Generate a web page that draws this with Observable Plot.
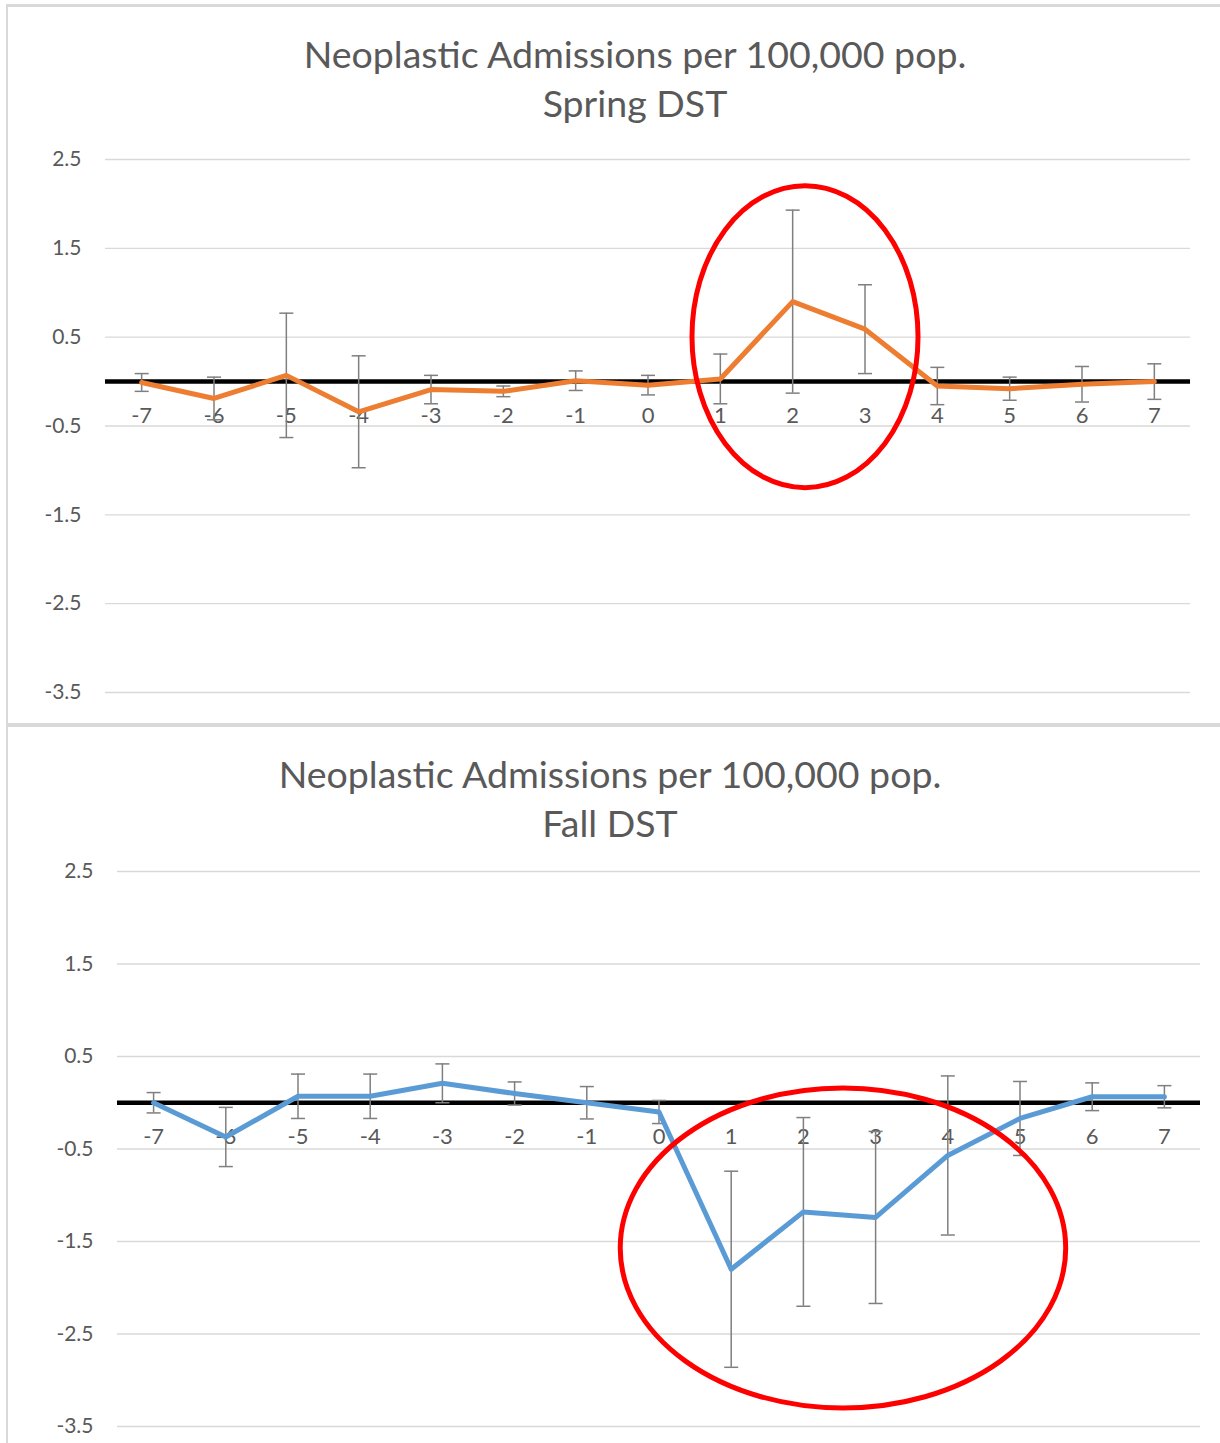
<!DOCTYPE html>
<html>
<head>
<meta charset="utf-8">
<script src="https://cdn.jsdelivr.net/npm/d3@7"></script>
<script src="https://cdn.jsdelivr.net/npm/@observablehq/plot@0.6"></script>
<style>
  body { margin: 0; width: 1220px; height: 1443px; position: relative; overflow: hidden; background: #fff; font-family: Lato, sans-serif; }
  .frame { position: absolute; box-sizing: border-box; border: 0 solid #d9d9d9; }
  .title { position: absolute; text-align: center; color: #595959; font-size: 37.5px; line-height: 49px; }
  .chart { position: absolute; left: 0; }
</style>
</head>
<body>
<div class="frame" style="left:6px;top:4px;right:0;height:723px;border-top-width:3px;border-left-width:2px;border-bottom-width:4px"></div>
<div class="frame" style="left:6px;top:727px;right:0;bottom:0;border-left-width:2px"></div>
<div class="title" style="left:0;width:1270px;top:29px">Neoplastic Admissions per 100,000 pop.<br>Spring DST</div>
<div class="title" style="left:0;width:1220px;top:749px">Neoplastic Admissions per 100,000 pop.<br>Fall DST</div>
<div class="chart spring" style="top:140px"></div>
<div class="chart fall" style="top:850px"></div>
<script>
console.log("dst admissions loaded");

const days = [-7, -6, -5, -4, -3, -2, -1, 0, 1, 2, 3, 4, 5, 6, 7];
const yTicks = [2.5, 1.5, 0.5, -0.5, -1.5, -2.5, -3.5];

const springMean = [-0.01, -0.19, 0.07, -0.34, -0.09, -0.11, 0.01, -0.04, 0.03, 0.90, 0.59, -0.05, -0.08, -0.03, 0.00];
const springErr  = [0.10, 0.24, 0.70, 0.63, 0.16, 0.06, 0.11, 0.11, 0.28, 1.03, 0.50, 0.21, 0.13, 0.20, 0.20];

const fallMean = [0.00, -0.37, 0.07, 0.07, 0.21, 0.10, 0.00, -0.10, -1.80, -1.18, -1.24, -0.57, -0.17, 0.065, 0.065];
const fallErr  = [0.11, 0.32, 0.24, 0.24, 0.21, 0.125, 0.175, 0.125, 1.06, 1.02, 0.93, 0.86, 0.40, 0.15, 0.12];

// red ring around the highlighted days: [x1, x2, y1, y2] in data units
const springRing = [0.615, 3.74, -1.20, 2.20];
const fallRing = [-0.53, 5.64, -3.305, 0.154];

// horizontal cap for the error bars
const cap = {draw(ctx) { ctx.moveTo(-7, 0); ctx.lineTo(7, 0); }};

function ring(r) {
  return (index, {x, y}) => {
    const [x1, x2, y1, y2] = r;
    return d3.create("svg:ellipse")
      .attr("cx", (x(x1) + x(x2)) / 2)
      .attr("cy", (y(y1) + y(y2)) / 2)
      .attr("rx", Math.abs(x(x2) - x(x1)) / 2)
      .attr("ry", Math.abs(y(y2) - y(y1)) / 2)
      .attr("fill", "none")
      .attr("stroke", "#ff0000")
      .attr("stroke-width", 5)
      .node();
  };
}

function panel(mean, err, color, r, m) {
  const rows = days.map((d, i) => ({day: d, mean: mean[i], lo: mean[i] - err[i], hi: mean[i] + err[i]}));
  return Plot.plot({
    width: 1220,
    height: m.height,
    marginTop: m.top,
    marginBottom: m.bottom,
    marginLeft: m.left,
    marginRight: m.right,
    style: {fontFamily: "Lato", fontSize: "21px", color: "#595959", background: "transparent", overflow: "visible"},
    x: {type: "linear", domain: [-7.5, 7.5], axis: null},
    y: {domain: [-3.5, 2.5], axis: null},
    marks: [
      Plot.ruleY(yTicks, {stroke: "#d9d9d9", strokeWidth: 1.3}),
      Plot.axisY(yTicks, {tickSize: 0, tickPadding: 24, tickFormat: d => String(d), fontSize: 21, fill: "#595959", label: null}),
      Plot.text(days, {x: d => d, y: 0, dy: 34, text: d => String(d), fontSize: 22, fill: "#595959"}),
      Plot.ruleY([0], {stroke: "#000", strokeWidth: 4.5}),
      Plot.ruleX(rows, {x: "day", y1: "lo", y2: "hi", stroke: "#7f7f7f", strokeWidth: 1.5}),
      Plot.dot(rows, {x: "day", y: "hi", symbol: cap, fill: "none", stroke: "#7f7f7f", strokeWidth: 1.5}),
      Plot.dot(rows, {x: "day", y: "lo", symbol: cap, fill: "none", stroke: "#7f7f7f", strokeWidth: 1.5}),
      Plot.line(rows, {x: "day", y: "mean", stroke: color, strokeWidth: 5, strokeLinejoin: "round"}),
      ring(r)
    ]
  });
}

document.querySelector(".spring").append(
  panel(springMean, springErr, "#ed7d31", springRing, {height: 570, top: 19, bottom: 18, left: 105, right: 30})
);
document.querySelector(".fall").append(
  panel(fallMean, fallErr, "#5b9bd5", fallRing, {height: 590, top: 21, bottom: 14, left: 117, right: 20})
);
</script>
</body>
</html>
